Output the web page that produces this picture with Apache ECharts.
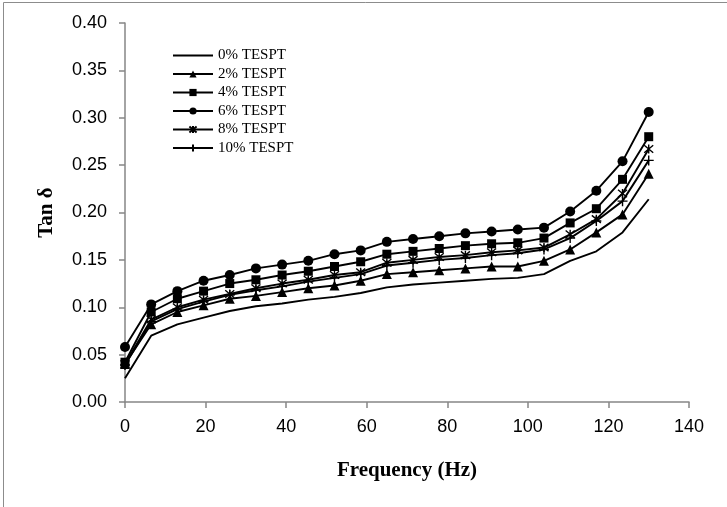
<!DOCTYPE html>
<html>
<head>
<meta charset="utf-8">
<script src="https://cdn.jsdelivr.net/npm/echarts@6/dist/echarts.min.js"></script>
<style>
html,body{margin:0;padding:0;background:#fff;}
#chart{width:727px;height:507px;}
</style>
</head>
<body>
<div id="chart"></div>
<script>
var frequency = [0, 6.5, 13, 19.5, 26, 32.5, 39, 45.5, 52, 58.5, 65, 71.5, 78, 84.5, 91, 97.5, 104, 110.5, 117, 123.5, 130];
var seriesNames = ['0% TESPT', '2% TESPT', '4% TESPT', '6% TESPT', '8% TESPT', '10% TESPT'];
var tespt0  = [0.025, 0.070, 0.082, 0.089, 0.096, 0.101, 0.104, 0.108, 0.111, 0.115, 0.121, 0.124, 0.126, 0.128, 0.130, 0.131, 0.135, 0.149, 0.159, 0.179, 0.214];
var tespt2  = [0.040, 0.082, 0.095, 0.102, 0.109, 0.112, 0.116, 0.120, 0.123, 0.128, 0.135, 0.137, 0.139, 0.141, 0.143, 0.143, 0.149, 0.161, 0.179, 0.198, 0.241];
var tespt4  = [0.042, 0.095, 0.109, 0.117, 0.125, 0.129, 0.134, 0.138, 0.143, 0.148, 0.156, 0.159, 0.162, 0.165, 0.167, 0.168, 0.173, 0.189, 0.204, 0.235, 0.280];
var tespt6  = [0.058, 0.103, 0.117, 0.128, 0.134, 0.141, 0.145, 0.149, 0.156, 0.160, 0.169, 0.172, 0.175, 0.178, 0.180, 0.182, 0.184, 0.201, 0.223, 0.254, 0.306];
var tespt8  = [0.040, 0.087, 0.100, 0.108, 0.114, 0.120, 0.125, 0.129, 0.134, 0.137, 0.147, 0.150, 0.153, 0.155, 0.158, 0.160, 0.163, 0.177, 0.193, 0.220, 0.267];
var tespt10 = [0.039, 0.085, 0.098, 0.106, 0.113, 0.118, 0.122, 0.127, 0.131, 0.135, 0.144, 0.147, 0.150, 0.152, 0.155, 0.157, 0.161, 0.173, 0.191, 0.212, 0.255];
var xTicks = [0, 20, 40, 60, 80, 100, 120, 140];
var yTicks = ['0.00', '0.05', '0.10', '0.15', '0.20', '0.25', '0.30', '0.35', '0.40'];

var allValues = [tespt0, tespt2, tespt4, tespt6, tespt8, tespt10];
var symbols = [
  'none',
  'triangle',
  'rect',
  'circle',
  'path://M0,0L10,10M10,0L0,10M5,-1L5,11',
  'path://M5,0L5,10M0,5L10,5'
];
var sizes = [0, 10, 9, 10, 9, 10];

function pairs(vals) {
  return frequency.map(function (f, i) { return [f, vals[i]]; });
}

var series = seriesNames.map(function (name, k) {
  var isPath = symbols[k].indexOf('path://') === 0;
  return {
    name: name,
    type: 'line',
    data: pairs(allValues[k]),
    symbol: symbols[k],
    symbolSize: sizes[k],
    showSymbol: symbols[k] !== 'none',
    color: '#000',
    lineStyle: { color: '#000', width: 1.9 },
    itemStyle: isPath ? { color: '#000', borderColor: '#000', borderWidth: 1.4 } : { color: '#000', borderWidth: 0 },
    emphasis: { disabled: true },
    animation: false,
    z: 2 + k
  };
});

var legendData = seriesNames.map(function (n, k) {
  var d = { name: n };
  if (k === 0) d.itemStyle = { opacity: 0 };
  return d;
});

var chart = echarts.init(document.getElementById('chart'));
chart.setOption({
  backgroundColor: '#fff',
  animation: false,
  graphic: [{
    type: 'rect',
    shape: { x: 3.5, y: 2.5, width: 760, height: 540 },
    style: { fill: 'none', stroke: '#8c8c8c', lineWidth: 1 },
    silent: true
  }],
  grid: { left: 125, right: 38, top: 23, bottom: 105, containLabel: false },
  legend: {
    orient: 'vertical',
    left: 167,
    top: 43,
    itemWidth: 40,
    itemHeight: 9,
    itemGap: 3.5,
    data: legendData,
    textStyle: { fontFamily: 'Liberation Serif', fontSize: 15, color: '#000', lineHeight: 15 },
    selectedMode: false
  },
  xAxis: {
    type: 'value',
    min: 0, max: 140, interval: 20,
    name: 'Frequency (Hz)',
    nameLocation: 'middle',
    nameGap: 58,
    nameTextStyle: { fontFamily: 'Liberation Serif', fontWeight: 'bold', fontSize: 21, color: '#000' },
    axisLine: { show: true, lineStyle: { color: '#868686', width: 1.5 } },
    axisTick: { show: true, inside: false, length: 6, lineStyle: { color: '#868686', width: 1.5 } },
    axisLabel: { margin: 16, fontFamily: 'Liberation Sans', fontSize: 18, color: '#000',
      formatter: function (v) { return xTicks.indexOf(v) >= 0 ? String(v) : ''; } },
    splitLine: { show: false }
  },
  yAxis: {
    type: 'value',
    min: 0, max: 0.4, interval: 0.05,
    name: 'Tan δ',
    nameLocation: 'middle',
    nameGap: 68,
    nameRotate: 90,
    nameTextStyle: { fontFamily: 'Liberation Serif', fontWeight: 'bold', fontSize: 21, color: '#000' },
    axisLine: { show: true, lineStyle: { color: '#868686', width: 1.5 } },
    axisTick: { show: true, inside: false, length: 6, lineStyle: { color: '#868686', width: 1.5 } },
    axisLabel: { margin: 18, fontFamily: 'Liberation Sans', fontSize: 18, color: '#000',
      formatter: function (v) { return yTicks[Math.round(v / 0.05)]; } },
    splitLine: { show: false }
  },
  series: series
});
</script>
</body>
</html>
